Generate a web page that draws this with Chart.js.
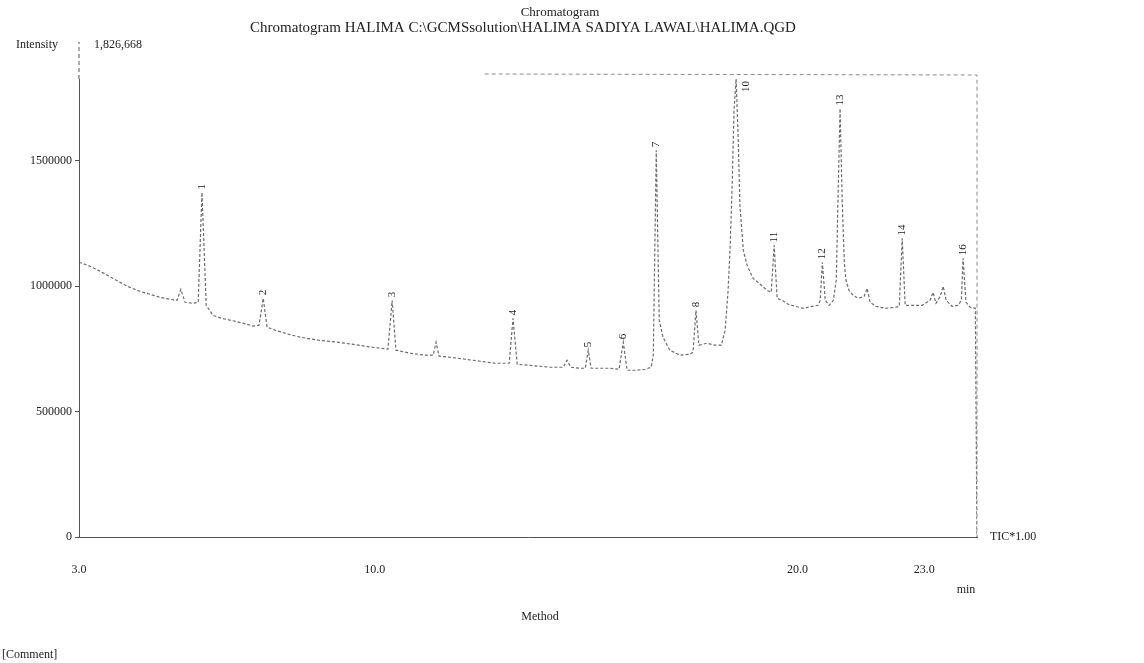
<!DOCTYPE html>
<html lang="en">
<head>
    <meta charset="UTF-8">
    <style>
        body {
            margin: 0;
            padding: 0;
            background: #ffffff;
        }

        .chart-container {
            width: 1144px;
            height: 663px;
        }
    </style>
    <script src="https://cdn.jsdelivr.net/npm/chart.js"></script>
</head>
<body>
    <div class="chart-container">
        <canvas id="chromChart" width="1144" height="663"></canvas>
    </div>

    <script>
        // TIC trace (min, counts)
        const retentionTimes = [
            3.00, 3.26, 3.50, 3.80, 4.14, 4.44, 4.68, 4.92, 5.15, 5.32, 5.41, 5.51, 5.70, 5.82, 5.91, 6.01,
            6.17, 6.38, 6.57, 6.88, 7.12, 7.26, 7.36, 7.45, 7.64, 7.95, 8.23, 8.66, 9.11, 9.46, 9.77, 10.12,
            10.31, 10.41, 10.50, 10.83, 11.19, 11.38, 11.45, 11.52, 11.78, 12.14, 12.49, 12.85, 13.18, 13.27,
            13.37, 13.63, 13.91, 14.15, 14.46, 14.55, 14.64, 14.86, 14.98, 15.05, 15.12, 15.33, 15.57, 15.78,
            15.88, 15.97, 16.16, 16.40, 16.54, 16.59, 16.66, 16.73, 16.82, 16.98, 17.22, 17.45, 17.53, 17.60,
            17.67, 17.86, 18.05, 18.20, 18.29, 18.36, 18.41, 18.46, 18.50, 18.55, 18.60, 18.64, 18.72, 18.81,
            18.95, 19.12, 19.28, 19.38, 19.45, 19.52, 19.64, 19.78, 19.95, 20.14, 20.35, 20.49, 20.54, 20.59,
            20.66, 20.75, 20.85, 20.92, 20.96, 21.01, 21.06, 21.11, 21.15, 21.22, 21.32, 21.44, 21.58, 21.65,
            21.72, 21.86, 22.08, 22.31, 22.41, 22.48, 22.55, 22.72, 22.95, 23.14, 23.21, 23.28, 23.38, 23.45,
            23.52, 23.66, 23.80, 23.88, 23.92, 23.99, 24.09, 24.21, 24.25
        ];
        const intensities = [
            1096000, 1080000, 1060000, 1032000, 1000000, 980000, 968000, 956000, 948000, 944000, 988000, 936000, 932000, 936000, 1374000, 924000,
            884000, 872000, 865000, 853000, 841000, 845000, 952000, 837000, 825000, 809000, 797000, 785000, 777000, 769000, 761000, 753000,
            749000, 944000, 745000, 733000, 725000, 725000, 777000, 721000, 717000, 709000, 701000, 693000, 693000, 872000,
            689000, 685000, 681000, 677000, 677000, 705000, 677000, 673000, 673000, 745000, 673000, 673000, 673000, 669000,
            777000, 665000, 665000, 669000, 677000, 725000, 1542000, 865000, 797000, 745000, 725000, 729000, 737000, 904000,
            765000, 773000, 765000, 765000, 825000, 984000, 1163000, 1422000, 1701000, 1826668, 1582000, 1323000, 1143000, 1084000,
            1032000, 1008000, 984000, 976000, 1163000, 952000, 944000, 928000, 920000, 912000, 920000, 924000, 944000, 1096000,
            944000, 924000, 944000, 1024000, 1343000, 1709000, 1343000, 1096000, 1024000, 984000, 964000, 952000, 960000, 992000,
            936000, 920000, 912000, 916000, 920000, 1191000, 924000, 924000, 924000, 944000, 976000, 932000, 960000, 1000000,
            944000, 920000, 924000, 944000, 1112000, 936000, 916000, 912000, 0
        ];

        const peakNumbers = ['1', '2', '3', '4', '5', '6', '7', '8', '10', '11', '12', '13', '14', '16'];
        const peakTimes = [5.91, 7.36, 10.41, 13.27, 15.05, 15.88, 16.66, 17.60, 18.55, 19.45, 20.59, 21.01, 22.48, 23.92];
        const peakHeights = [1374000, 952000, 944000, 872000, 745000, 777000, 1542000, 904000, 1826668, 1163000, 1096000, 1709000, 1191000, 1112000];

        const xTickValues = [3.0, 10.0, 20.0, 23.0];
        const yTickValues = [0, 500000, 1000000, 1500000];
        const maxIntensity = 1826668;

        const fileLine = 'Chromatogram HALIMA C:\\GCMSsolution\\HALIMA SADIYA LAWAL\\HALIMA.QGD';
        const serif = '"Liberation Serif", "DejaVu Serif", serif';

        const printout = {
            id: 'printout',
            afterDraw(chart) {
                const { ctx, chartArea, scales: { x, y } } = chart;
                ctx.save();

                // faint frame on top and right, and axis running up to the max label
                ctx.strokeStyle = '#8a8a8a';
                ctx.lineWidth = 1;
                ctx.setLineDash([4, 3]);
                ctx.beginPath();
                ctx.moveTo(x.getPixelForValue(12.6), chartArea.top - 5);
                ctx.lineTo(chartArea.right, chartArea.top - 4);
                ctx.lineTo(chartArea.right, chartArea.bottom);
                ctx.stroke();
                ctx.strokeStyle = '#555';
                ctx.beginPath();
                ctx.moveTo(chartArea.left, chartArea.top);
                ctx.lineTo(chartArea.left, 42);
                ctx.stroke();
                ctx.setLineDash([]);

                ctx.fillStyle = '#222';
                ctx.textBaseline = 'middle';

                ctx.textAlign = 'center';
                ctx.font = '13px ' + serif;
                ctx.fillText('Chromatogram', 560, 13);
                ctx.font = '15px ' + serif;
                ctx.fillText(fileLine, 523, 28);

                ctx.font = '12px ' + serif;
                ctx.textAlign = 'left';
                ctx.fillText('Intensity', 16, 45);
                ctx.fillText(maxIntensity.toLocaleString('en-US'), 94, 45);
                ctx.fillText('TIC*1.00', 990, chartArea.bottom);
                ctx.fillText('[Comment]', 2, 655);
                ctx.textAlign = 'center';
                ctx.fillText('min', 966, 590);
                ctx.fillText('Method', 540, 617);

                // vertical peak numbers above each apex
                ctx.font = '11px ' + serif;
                ctx.textAlign = 'left';
                peakNumbers.forEach((label, i) => {
                    let px = x.getPixelForValue(peakTimes[i]);
                    let py = y.getPixelForValue(peakHeights[i]) - 3;
                    const w = ctx.measureText(label).width;
                    if (py - w < chartArea.top - 6) {
                        px += 10;
                        py = chartArea.top + w + 2;
                    }
                    ctx.save();
                    ctx.translate(px, py);
                    ctx.rotate(-Math.PI / 2);
                    ctx.fillText(label, 0, 0);
                    ctx.restore();
                });

                ctx.restore();
            }
        };

        const data = {
            datasets: [{
                label: 'TIC',
                data: retentionTimes.map((t, i) => ({ x: t, y: intensities[i] })),
                borderColor: 'rgba(70, 70, 70, 0.8)',
                borderWidth: 1.2,
                borderDash: [3, 2],
                pointRadius: 0,
                tension: 0,
                fill: false
            }]
        };

        const config = {
            type: 'line',
            data: data,
            options: {
                responsive: false,
                animation: false,
                layout: {
                    padding: { left: 0, top: 79, right: 167, bottom: 0 }
                },
                plugins: {
                    legend: { display: false },
                    title: { display: false },
                    tooltip: { enabled: false }
                },
                scales: {
                    x: {
                        type: 'linear',
                        min: 3.0,
                        max: 24.25,
                        afterBuildTicks: (scale) => {
                            scale.ticks = xTickValues.map(v => ({ value: v }));
                        },
                        afterFit: (scale) => { scale.height = 126; },
                        grid: { display: false },
                        border: { color: '#555', dash: [4, 3] },
                        ticks: {
                            autoSkip: false,
                            maxRotation: 0,
                            padding: 18,
                            color: '#222',
                            font: { family: serif, size: 12 },
                            callback: (v) => Number(v).toFixed(1)
                        }
                    },
                    y: {
                        min: 0,
                        max: maxIntensity,
                        afterBuildTicks: (scale) => {
                            scale.ticks = yTickValues.map(v => ({ value: v }));
                        },
                        afterFit: (scale) => { scale.width = 79; },
                        grid: {
                            drawOnChartArea: false,
                            tickLength: 4,
                            color: '#555'
                        },
                        border: { color: '#555', dash: [4, 3] },
                        ticks: {
                            autoSkip: false,
                            padding: 3,
                            color: '#222',
                            font: { family: serif, size: 12 },
                            callback: (v) => String(v)
                        }
                    }
                }
            },
            plugins: [printout]
        };

        try {
            new Chart(document.getElementById('chromChart').getContext('2d'), config);
        } catch (error) {
            console.error('Error creating the chart:', error);
        }
    </script>
</body>
</html>
